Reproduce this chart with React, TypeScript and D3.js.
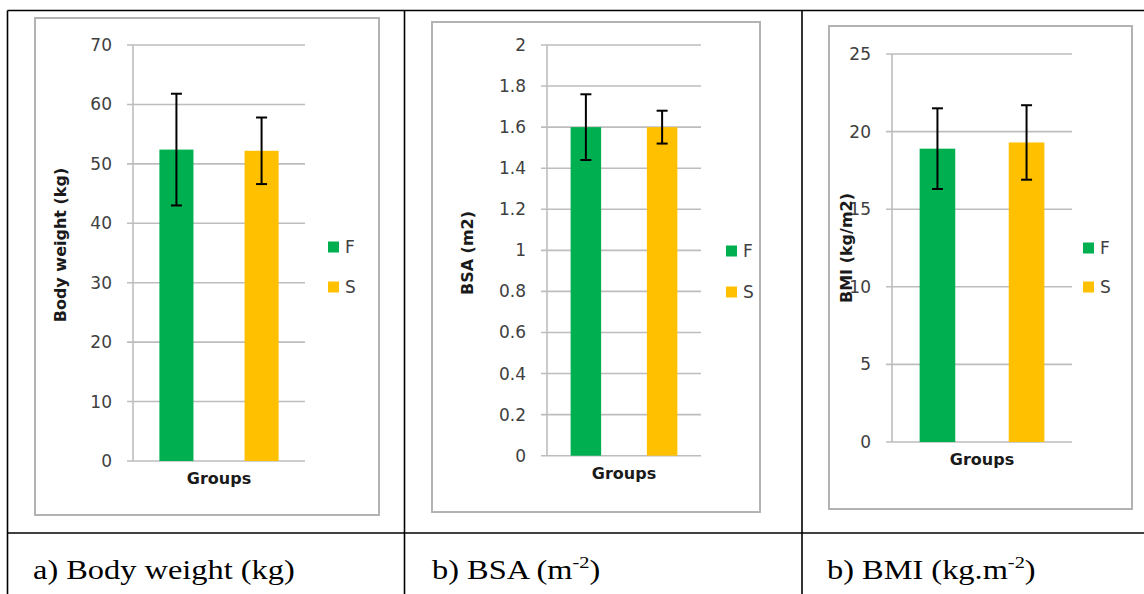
import React from "react";
import * as d3 from "d3";

// ---- Data ----
const categories = ["F", "S"];
const bodyWeightMean = [52.4, 52.2];
const bodyWeightSD = [9.4, 5.6];
const bsaMean = [1.6, 1.6];
const bsaSD = [0.16, 0.08];
const bmiMean = [18.9, 19.3];
const bmiSD = [2.6, 2.4];
const bodyWeightTicks = [0, 10, 20, 30, 40, 50, 60, 70];
const bsaTicks = [0, 0.2, 0.4, 0.6, 0.8, 1, 1.2, 1.4, 1.6, 1.8, 2];
const bmiTicks = [0, 5, 10, 15, 20, 25];
const xTitle = "Groups";
const yTitles = ["Body weight (kg)", "BSA (m2)", "BMI (kg/m2)"];
const colors = ["#00b050", "#ffc000"];

// ---- Layout ----
type Panel = {
  mean: number[];
  sd: number[];
  ticks: number[];
  yTitle: string;
  frame: [number, number, number, number];
  plot: [number, number, number, number]; // x0, x1, yTop, yBottom
  yTitleX: number;
  yTitleY: number;
  legendX: number;
  legendY: [number, number];
  groupsY: number;
  caption: { x: number; parts: [string, string, string] };
};

const panels: Panel[] = [
  {
    mean: bodyWeightMean,
    sd: bodyWeightSD,
    ticks: bodyWeightTicks,
    yTitle: yTitles[0],
    frame: [35, 18, 379, 515],
    plot: [133, 305, 45, 461],
    yTitleX: 60,
    yTitleY: 245,
    legendX: 328,
    legendY: [247, 287],
    groupsY: 484,
    caption: { x: 33, parts: ["a) Body weight (kg)", "", ""] },
  },
  {
    mean: bsaMean,
    sd: bsaSD,
    ticks: bsaTicks,
    yTitle: yTitles[1],
    frame: [432, 22, 760, 512],
    plot: [547, 701, 45, 455.7],
    yTitleX: 467,
    yTitleY: 253,
    legendX: 726,
    legendY: [251, 292],
    groupsY: 479,
    caption: { x: 432, parts: ["b) BSA (m", "-2", ")"] },
  },
  {
    mean: bmiMean,
    sd: bmiSD,
    ticks: bmiTicks,
    yTitle: yTitles[2],
    frame: [829, 26, 1132, 509],
    plot: [892, 1072, 54, 442],
    yTitleX: 846,
    yTitleY: 248,
    legendX: 1083,
    legendY: [248, 287],
    groupsY: 465,
    caption: { x: 827, parts: ["b) BMI (kg.m", "-2", ")"] },
  },
];

const sansFont = "'DejaVu Sans', sans-serif";
const serifFont = "'Liberation Serif', 'Times New Roman', serif";

function ChartPanel({ p }: { p: Panel }) {
  const [x0, x1, yTop, yBot] = p.plot;
  const y = d3
    .scaleLinear()
    .domain([p.ticks[0], p.ticks[p.ticks.length - 1]])
    .range([yBot, yTop]);
  const x = d3
    .scaleBand<string>()
    .domain(categories)
    .range([x0, x1])
    .paddingInner(0.6)
    .paddingOuter(0.31);
  const fmt = (v: number) => String(+v.toFixed(2));
  const [fx0, fy0, fx1, fy1] = p.frame;
  const capW = 11;
  return (
    <g>
      <rect
        x={fx0}
        y={fy0}
        width={fx1 - fx0}
        height={fy1 - fy0}
        fill="#fff"
        stroke="#b3b3b3"
        strokeWidth={2}
      />
      {/* gridlines */}
      {p.ticks.map((t) => (
        <line
          key={"g" + t}
          x1={x0 - 6}
          x2={x1}
          y1={y(t)}
          y2={y(t)}
          stroke="#bdbdbd"
          strokeWidth={1.6}
        />
      ))}
      <line x1={x0} x2={x0} y1={yTop} y2={yBot} stroke="#bdbdbd" strokeWidth={1.6} />
      {/* tick labels */}
      {p.ticks.map((t) => (
        <text
          key={"t" + t}
          x={x0 - 21}
          y={y(t)}
          textAnchor="end"
          dominantBaseline="central"
          fontFamily={sansFont}
          fontSize={17}
          fill="#404040"
        >
          {fmt(t)}
        </text>
      ))}
      {/* bars */}
      {categories.map((c, i) => (
        <rect
          key={"b" + c}
          x={x(c)}
          y={y(p.mean[i])}
          width={x.bandwidth()}
          height={yBot - y(p.mean[i])}
          fill={colors[i]}
        />
      ))}
      {/* error bars */}
      {categories.map((c, i) => {
        const cx = (x(c) as number) + x.bandwidth() / 2;
        const hi = y(p.mean[i] + p.sd[i]);
        const lo = y(p.mean[i] - p.sd[i]);
        return (
          <g key={"e" + c} stroke="#000" strokeWidth={2}>
            <line x1={cx} x2={cx} y1={hi} y2={lo} />
            <line x1={cx - capW / 2} x2={cx + capW / 2} y1={hi} y2={hi} />
            <line x1={cx - capW / 2} x2={cx + capW / 2} y1={lo} y2={lo} />
          </g>
        );
      })}
      {/* y title */}
      <text
        transform={`translate(${p.yTitleX},${p.yTitleY}) rotate(-90)`}
        textAnchor="middle"
        dominantBaseline="central"
        fontFamily={sansFont}
        fontWeight="bold"
        fontSize={16}
        fill="#1a1a1a"
      >
        {p.yTitle}
      </text>
      {/* x title */}
      <text
        x={(x0 + x1) / 2}
        y={p.groupsY}
        textAnchor="middle"
        fontFamily={sansFont}
        fontWeight="bold"
        fontSize={16}
        fill="#1a1a1a"
      >
        {xTitle}
      </text>
      {/* legend */}
      {categories.map((c, i) => (
        <g key={"l" + c}>
          <rect x={p.legendX} y={p.legendY[i] - 5.5} width={11} height={11} fill={colors[i]} />
          <text
            x={p.legendX + 17}
            y={p.legendY[i]}
            dominantBaseline="central"
            fontFamily={sansFont}
            fontSize={17}
            fill="#404040"
          >
            {c}
          </text>
        </g>
      ))}
      {/* caption */}
      <text
        transform={`translate(${p.caption.x},579) scale(1.2,1)`}
        fontFamily={serifFont}
        fontSize={27}
        fill="#000"
      >
        {p.caption.parts[0]}
        {p.caption.parts[1] ? (
          <tspan fontSize={17} dy={-11}>
            {p.caption.parts[1]}
          </tspan>
        ) : null}
        {p.caption.parts[2] ? <tspan dy={11}>{p.caption.parts[2]}</tspan> : null}
      </text>
    </g>
  );
}

export default function App() {
  return (
    <svg
      width={1144}
      height={594}
      style={{ position: "absolute", left: 0, top: 0, background: "#fff" }}
    >
      <rect x={0} y={0} width={1144} height={594} fill="#fff" />
      {panels.map((p, i) => (
        <ChartPanel key={i} p={p} />
      ))}
      {/* table lines */}
      <g stroke="#000" strokeWidth={1.6}>
        <line x1={7.5} x2={1144} y1={10.5} y2={10.5} />
        <line x1={7.5} x2={7.5} y1={10.5} y2={594} />
        <line x1={404.5} x2={404.5} y1={10.5} y2={594} />
        <line x1={802} x2={802} y1={10.5} y2={594} />
        <line x1={7.5} x2={1144} y1={533} y2={533} />
      </g>
    </svg>
  );
}
